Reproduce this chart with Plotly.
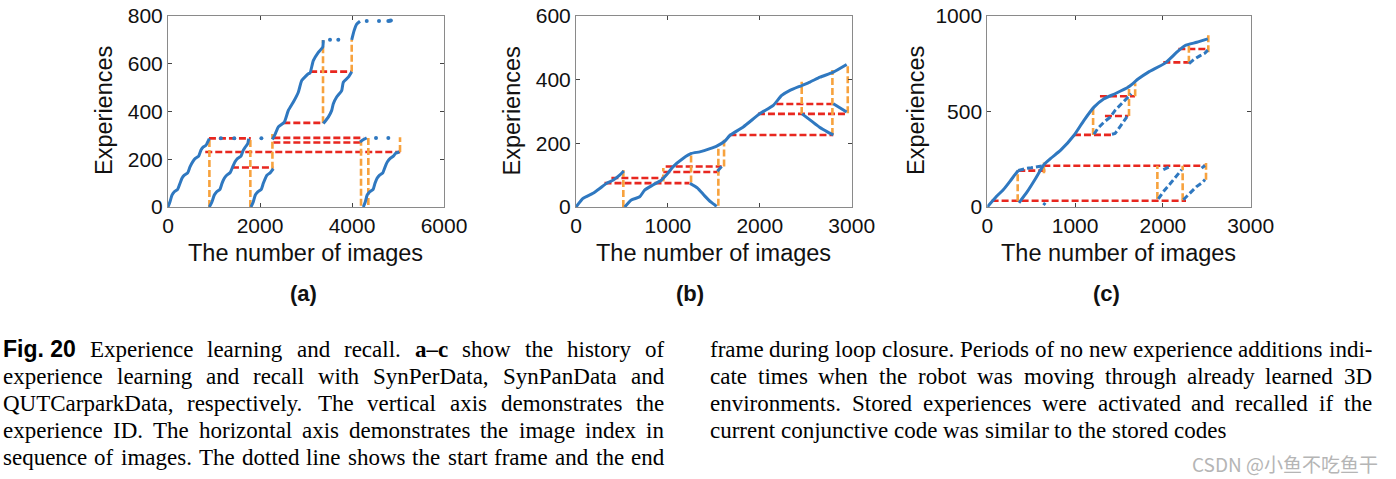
import plotly.graph_objects as go

BLUE = '#2F78C0'
RED = '#E8271F'
ORANGE = '#F7A23E'
W, H = 1396, 479

# ---------------- Panel (a): SynPerData ----------------
a_blue_x = [
    [0, 43, 87, 138, 210, 261, 304, 355, 428, 478, 536, 594, 667, 717, 768, 826, 863, 898],
    [898, 957, 1007, 1059, 1130, 1174, 1224, 1276, 1348, 1406, 1457, 1515, 1587, 1638, 1681,
     1733, 1754],
    [1804, 1855, 1898, 1957, 2028, 2072, 2116, 2150, 2220, 2290],
    [2268, 2330, 2399, 2529, 2616, 2725, 2833, 2907, 3051, 3087, 3159, 3268, 3363, 3376],
    [3376, 3485, 3559, 3594, 3667, 3776, 3811, 3920, 3994],
    [3994, 4050, 4102, 4174],
    [4246, 4290, 4330, 4390, 4460, 4500, 4545, 4600, 4670, 4720, 4770, 4830, 4900, 4950, 5029],
    [4174, 4250, 4320],
]
a_blue_y = [
    [0, 22, 50, 64, 74, 99, 120, 133, 143, 168, 189, 203, 213, 238, 251, 258, 272, 286],
    [0, 22, 50, 64, 74, 99, 120, 133, 143, 168, 189, 203, 213, 238, 251, 265, 286],
    [0, 22, 50, 64, 74, 99, 120, 133, 143, 160],
    [282, 305, 335, 355, 404, 439, 480, 529, 557, 560, 612, 647, 668, 698],
    [349, 376, 404, 432, 460, 487, 522, 543, 566],
    [699, 740, 765, 777],
    [0, 22, 50, 64, 74, 99, 120, 133, 143, 168, 189, 203, 213, 225, 230],
    [272, 282, 289],
]
a_dots_x = [1150, 1440, 2030, 3522, 3702, 4320, 4587, 4790, 4820, 4845, 4522, 4790]
a_dots_y = [287, 287, 287, 699, 699, 778, 778, 778, 779, 780, 289, 289]
a_red_y = [287, 230, 165, 352, 566, 289, 270]
a_red_x0 = [890, 810, 1390, 2507, 3090, 2290, 2290]
a_red_x1 = [1800, 5050, 2290, 3370, 3994, 4250, 4200]
a_orange_x = [900, 1790, 2270, 3370, 3994, 4196, 4355, 5044]
a_orange_y0 = [0, 0, 160, 350, 566, 5, 8, 230]
a_orange_y1 = [287, 287, 305, 698, 700, 272, 289, 292]

# ---------------- Panel (b): SynPanData ----------------
b_blue_x = [
    [0, 3, 76, 185, 258, 330, 402, 475, 520],
    [530, 602, 693, 747, 838, 928, 983, 1055, 1164, 1255, 1346, 1458, 1531, 1621, 1676,
     1820, 2002, 2147, 2238, 2328, 2455, 2546, 2655, 2800, 2945],
    [1240, 1320, 1400, 1470, 1530],
    [1538, 1585],
    [2460, 2560, 2650, 2740, 2800],
    [2800, 2945],
]
b_blue_y = [
    [0, 1, 27, 43, 58, 74, 84, 100, 113],
    [0, 22, 32, 53, 69, 84, 100, 126, 152, 168, 173, 183, 191, 207, 225,
     251, 293, 319, 350, 366, 381, 392, 407, 423, 447],
    [74, 60, 35, 15, 2],
    [112, 127],
    [292, 270, 250, 235, 226],
    [324, 298],
]
b_red_y = [75, 91, 110, 127, 226, 292, 323]
b_red_x0 = [310, 385, 950, 976, 1670, 1980, 2180]
b_red_x1 = [1235, 965, 1560, 1585, 2800, 2957, 2800]
b_orange_x = [515, 950, 1252, 1549, 1611, 2456, 2790, 2957]
b_orange_y0 = [0, 80, 77, 4, 127, 292, 226, 294]
b_orange_y1 = [117, 122, 169, 190, 211, 393, 430, 449]

# ---------------- Panel (c): QUTCarparkData ----------------
c_blue_x = [
    [0, 106, 182, 258, 315, 353],
    [361, 455, 550, 646, 722, 836, 988, 1101, 1215, 1329, 1455, 1607, 1721, 1835,
     2025, 2158, 2253, 2386, 2511],
]
c_blue_y = [
    [0, 56, 90, 134, 169, 191],
    [22, 80, 149, 222, 254, 297, 375, 453, 522, 566, 592, 627, 670, 705,
     752, 809, 844, 861, 879],
]
c_dotted_x = [
    [353, 400, 450, 500, 545, 600, 640],
    [1215, 1260, 1330, 1400, 1455, 1530, 1600, 1640],
    [1420, 1455, 1520, 1588, 1618],
    [1948, 2005, 2080, 2150, 2214],
    [2005, 2081],
    [2233, 2300, 2380, 2440, 2480],
    [2441, 2479],
    [2298, 2350, 2420, 2480, 2511],
    [640, 660],
]
c_dotted_y = [
    [191, 197, 202, 205, 208, 212, 216],
    [380, 412, 444, 470, 505, 540, 570, 592],
    [380, 384, 425, 470, 478],
    [42, 80, 120, 160, 195],
    [195, 212],
    [38, 70, 105, 125, 143],
    [203, 217],
    [750, 770, 790, 805, 820],
    [10, 22],
]
c_red_y = [33, 216, 190, 377, 476, 579, 756, 826]
c_red_x0 = [49, 638, 353, 987, 1340, 1283, 2005, 2176]
c_red_x1 = [2263, 2479, 695, 1435, 1606, 1682, 2301, 2517]
c_orange_x = [346, 645, 1937, 2225, 2491, 1205, 1614, 1684, 2296, 2517]
c_orange_y0 = [30, 177, 42, 35, 143, 377, 476, 579, 754, 809]
c_orange_y1 = [191, 233, 216, 216, 230, 516, 638, 647, 848, 904]

# axis ticks
a_xticks = [0, 2000, 4000, 6000]
a_yticks = [0, 200, 400, 600, 800]
b_xticks = [0, 1000, 2000, 3000]
b_yticks = [0, 200, 400, 600]
c_xticks = [0, 1000, 2000, 3000]
c_yticks = [0, 500, 1000]

x_title = 'The number of images'
y_title = 'Experiences'
panel_labels = ['(a)', '(b)', '(c)']

caption_left = [
    "Fig. 20|Experience learning and recall. *a–c show the history of",
    "experience learning and recall with SynPerData, SynPanData and",
    "QUTCarparkData, respectively. The vertical axis demonstrates the",
    "experience ID. The horizontal axis demonstrates the image index in",
    "sequence of images. The dotted line shows the start frame and the end",
]
caption_right = [
    "frame during loop closure. Periods of no new experience additions indi-",
    "cate times when the robot was moving through already learned 3D",
    "environments. Stored experiences were activated and recalled if the",
    "current conjunctive code was similar to the stored codes",
]
caption_justified_left = [True, True, True, True, True]
caption_justified_right = [True, True, True, False]
watermark = 'CSDN @小鱼不吃鱼干'

fig = go.Figure()


def add_panel(n, blue_x, blue_y, red_y, red_x0, red_x1, or_x, or_y0, or_y1):
    xa, ya = ('x', 'y') if n == 1 else (f'x{n}', f'y{n}')
    for x0, x1, y in zip(red_x0, red_x1, red_y):
        fig.add_trace(go.Scatter(x=[x0, x1], y=[y, y], mode='lines', xaxis=xa, yaxis=ya,
                                 line=dict(color=RED, width=2.6, dash='7px,3px'),
                                 showlegend=False, hoverinfo='skip'))
    for x, y0, y1 in zip(or_x, or_y0, or_y1):
        fig.add_trace(go.Scatter(x=[x, x], y=[y0, y1], mode='lines', xaxis=xa, yaxis=ya,
                                 line=dict(color=ORANGE, width=2.6, dash='7px,3px'),
                                 showlegend=False, hoverinfo='skip'))
    for xs, ys in zip(blue_x, blue_y):
        fig.add_trace(go.Scatter(x=xs, y=ys, mode='lines', xaxis=xa, yaxis=ya,
                                 line=dict(color=BLUE, width=3, shape='spline', smoothing=0.5),
                                 showlegend=False, hoverinfo='skip'))


add_panel(1, a_blue_x, a_blue_y, a_red_y, a_red_x0, a_red_x1, a_orange_x, a_orange_y0, a_orange_y1)
fig.add_trace(go.Scatter(x=a_dots_x, y=a_dots_y, mode='markers', xaxis='x', yaxis='y',
                         marker=dict(color=BLUE, size=4), showlegend=False, hoverinfo='skip'))
add_panel(2, b_blue_x, b_blue_y, b_red_y, b_red_x0, b_red_x1, b_orange_x, b_orange_y0, b_orange_y1)
add_panel(3, c_blue_x, c_blue_y, c_red_y, c_red_x0, c_red_x1, c_orange_x, c_orange_y0, c_orange_y1)
for xs, ys in zip(c_dotted_x, c_dotted_y):
    fig.add_trace(go.Scatter(x=xs, y=ys, mode='lines', xaxis='x3', yaxis='y3',
                             line=dict(color=BLUE, width=3, dash='6px,3px'),
                             showlegend=False, hoverinfo='skip'))

ydom = [1 - 207 / H, 1 - 15.7 / H]
xdoms = [[168 / W, 444 / W], [576 / W, 851.7 / W], [987.3 / W, 1250.7 / W]]
xr = [[0, 6000], [0, 3000], [0, 3000]]
yr = [[0, 800], [0, 600], [0, 1000]]
xt = [a_xticks, b_xticks, c_xticks]
yt = [a_yticks, b_yticks, c_yticks]

tickfont = dict(family='Liberation Sans, Arial', size=21, color='#111')
common = dict(showline=True, mirror='ticks', linecolor='#8a8a8a', linewidth=1, ticks='inside',
              ticklen=4, tickcolor='#444', showgrid=False, zeroline=False, tickfont=tickfont,
              fixedrange=True, automargin=False)
layout = {}
for i in range(3):
    s = '' if i == 0 else str(i + 1)
    layout['xaxis' + s] = dict(domain=xdoms[i], range=xr[i], tickvals=xt[i],
                               anchor='y' + s, **common)
    layout['yaxis' + s] = dict(domain=ydom, range=yr[i], tickvals=yt[i],
                               anchor='x' + s, **common)

fig.update_layout(width=W, height=H, margin=dict(l=0, r=0, t=0, b=0, pad=0, autoexpand=False),
                  plot_bgcolor='white', paper_bgcolor='white', **layout)

ann = []
titlefont = dict(family='Liberation Sans, Arial', size=23.5, color='#111')
for cx in [305.5, 713.5, 1118.5]:
    ann.append(dict(x=cx / W, y=1 - 253 / H, text=x_title, font=titlefont))
for cx in [104, 511.5, 916]:
    ann.append(dict(x=cx / W, y=1 - 111 / H, text=y_title, font=titlefont, textangle=-90))
for cx, lab in zip([303, 690, 1106], panel_labels):
    ann.append(dict(x=cx / W, y=1 - 293 / H, text='<b>' + lab + '</b>',
                    font=dict(family='Liberation Sans, Arial', size=22, color='#111')))

# --- justified caption: word widths from Times / Helvetica metrics (units per 1000 em)
TIMES = {' ': 250, ',': 250, '.': 250, '-': 333, '–': 500, '3': 500, '2': 500, '0': 500,
         'A': 722, 'B': 667, 'C': 667, 'D': 722, 'E': 611, 'F': 556, 'G': 722, 'H': 722,
         'I': 333, 'J': 389, 'K': 722, 'L': 611, 'M': 889, 'N': 722, 'O': 722, 'P': 556,
         'Q': 722, 'R': 667, 'S': 556, 'T': 611, 'U': 722, 'V': 722, 'W': 944, 'X': 722,
         'Y': 722, 'Z': 611,
         'a': 444, 'b': 500, 'c': 444, 'd': 500, 'e': 444, 'f': 333, 'g': 500, 'h': 500,
         'i': 278, 'j': 278, 'k': 500, 'l': 278, 'm': 778, 'n': 500, 'o': 500, 'p': 500,
         'q': 500, 'r': 333, 's': 389, 't': 278, 'u': 500, 'v': 500, 'w': 722, 'x': 500,
         'y': 500, 'z': 444}
TIMES_B = dict(TIMES, a=500, c=444)
HELV_B = {'F': 611, 'i': 278, 'g': 611, '.': 278, ' ': 278, '2': 556, '0': 556}

CAP_FS = 23
LINE_Y0, LINE_DY = 349, 27
serif = 'Liberation Serif, Times New Roman'


def word_tokens(line):
    toks = []
    if '|' in line:
        head, line = line.split('|', 1)
        toks.append(('<b>' + head + '</b>', sum(HELV_B.get(ch, 556) for ch in head),
                     'Liberation Sans, Arial'))
    for w in line.split(' '):
        if w.startswith('*'):
            w = w[1:]
            toks.append(('<b>' + w + '</b>', sum(TIMES_B.get(ch, 500) for ch in w), serif))
        else:
            toks.append((w, sum(TIMES.get(ch, 500) for ch in w), serif))
    return toks


def add_caption(lines, justified, x_left, x_right):
    for i, (line, just) in enumerate(zip(lines, justified)):
        y = 1 - (LINE_Y0 + LINE_DY * i) / H
        toks = word_tokens(line)
        widths = [t[1] * CAP_FS / 1000 for t in toks]
        nat_gap = 250 * CAP_FS / 1000
        if just and len(toks) > 1:
            gap = (x_right - x_left - sum(widths)) / (len(toks) - 1)
        else:
            gap = nat_gap
        x = x_left
        for (txt, _, fam), w in zip(toks, widths):
            ann.append(dict(x=x / W, y=y, text=txt, xanchor='left',
                            font=dict(family=fam, size=CAP_FS, color='#000')))
            x += w + gap


add_caption(caption_left, caption_justified_left, 1, 662)
add_caption(caption_right, caption_justified_right, 708, 1370)

ann.append(dict(x=1380 / W, y=1 - 463 / H, text=watermark, xanchor='right',
                font=dict(family='Noto Sans CJK SC, Noto Sans', size=19, color='#b5b5b5')))
for a in ann:
    a.setdefault('xanchor', 'center')
    a.update(xref='paper', yref='paper', yanchor='middle', showarrow=False)
fig.update_layout(annotations=ann)

fig.write_html('out.html', config={'displayModeBar': False},
               post_script="document.body.style.margin='0';")
